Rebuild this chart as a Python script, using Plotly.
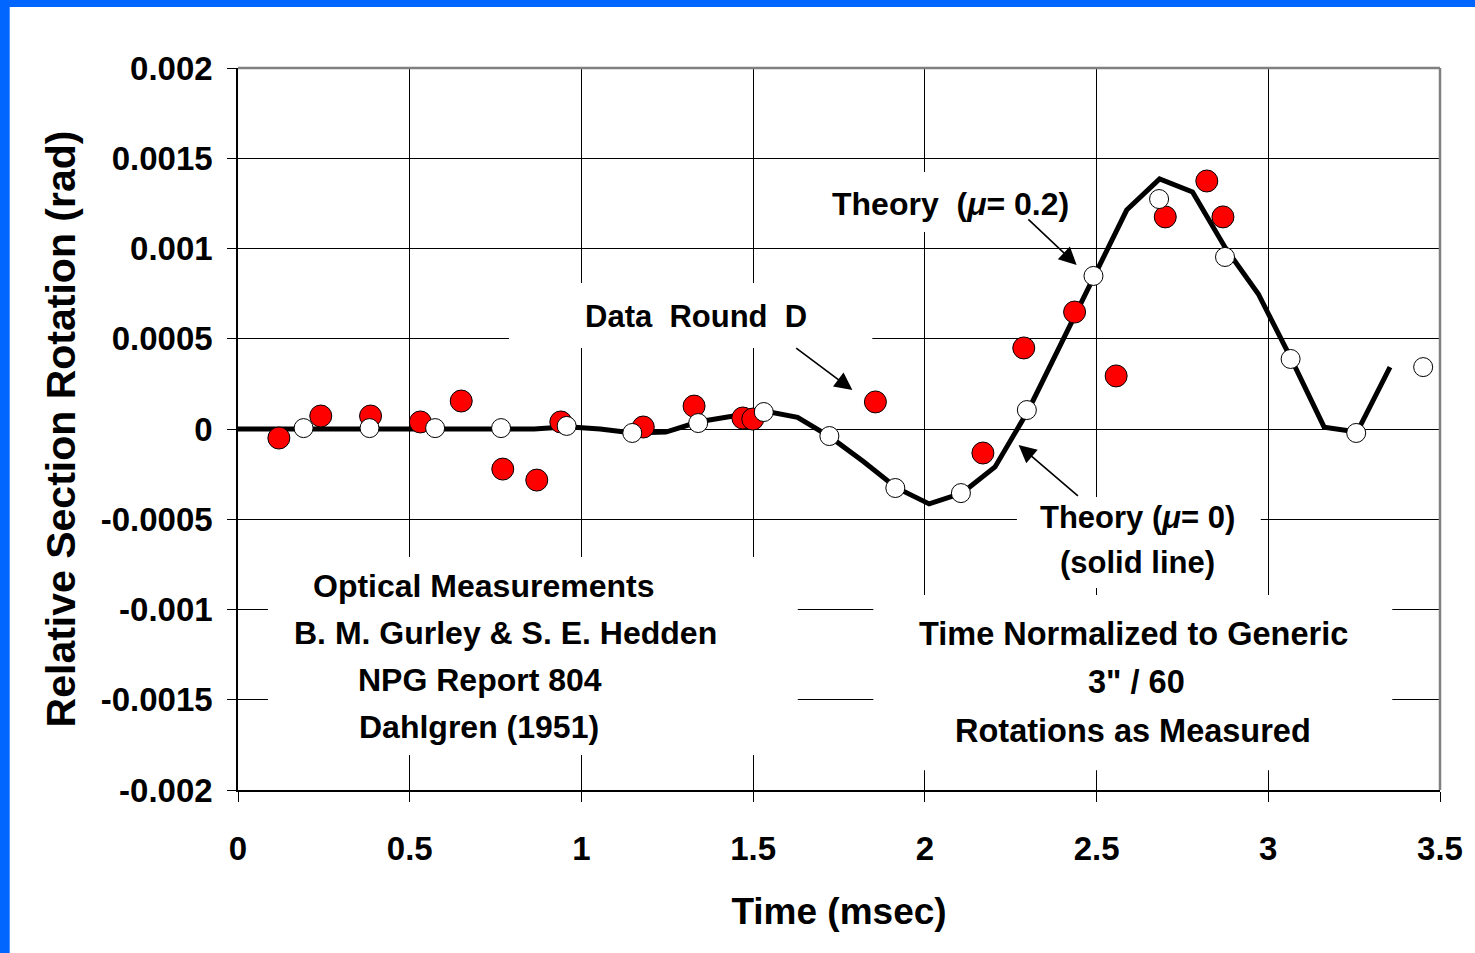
import plotly.graph_objects as go

# ---------------- data ----------------
theory_x = [0.0, 0.0958, 0.1917, 0.2875, 0.3834, 0.4792, 0.5750, 0.6709, 0.7667, 0.8626,
            0.9584, 1.0542, 1.1501, 1.2459, 1.3418, 1.4376, 1.5334, 1.6293, 1.7251, 1.8210,
            1.9168, 2.0126, 2.1085, 2.2043, 2.3002, 2.3960, 2.4918, 2.5877, 2.6835, 2.7794,
            2.8752, 2.9710, 3.0669, 3.1627, 3.2586, 3.3544]
theory_y = [0.0, 0.0, 0.0, 0.0, 0.0, 0.0, 0.0, 0.0, 0.0, 0.0,
            0.000013, 0.0, -0.000022, -0.000017, 0.00004, 0.00007, 0.0001, 0.000065, -0.000045, -0.00018,
            -0.000325, -0.000415, -0.000355, -0.00021, 0.0001, 0.00047, 0.000848, 0.001213, 0.001385, 0.001313,
            0.001003, 0.000748, 0.000388, 0.00001, -0.000017, 0.000343]

white_x = [0.191, 0.383, 0.574, 0.766, 0.957, 1.148, 1.340, 1.531, 1.722, 1.914,
           2.105, 2.297, 2.491, 2.682, 2.874, 3.065, 3.256, 3.451]
white_y = [0.000005, 0.000005, 0.000005, 0.000005, 0.000017, -0.000022, 0.000033, 0.000094, -0.000039, -0.000327,
           -0.000355, 0.000105, 0.000848, 0.001274, 0.000953, 0.000388, -0.000022, 0.000343]

red_x = [0.119, 0.241, 0.386, 0.531, 0.650, 0.771, 0.870, 0.940, 1.180, 1.328,
         1.470, 1.499, 1.856, 2.169, 2.288, 2.436, 2.557, 2.700, 2.821, 2.868]
red_y = [-0.00005, 0.000072, 0.000072, 0.000039, 0.000155, -0.000222, -0.000283, 0.000039, 0.000011, 0.000127,
         0.000061, 0.000055, 0.00015, -0.000133, 0.000449, 0.000648, 0.000294, 0.001175, 0.001374, 0.001175]

x_ticks = [0, 0.5, 1, 1.5, 2, 2.5, 3, 3.5]
x_ticklabels = ["0", "0.5", "1", "1.5", "2", "2.5", "3", "3.5"]
y_ticks = [-0.002, -0.0015, -0.001, -0.0005, 0, 0.0005, 0.001, 0.0015, 0.002]
y_ticklabels = ["-0.002", "-0.0015", "-0.001", "-0.0005", "0", "0.0005", "0.001", "0.0015", "0.002"]

FONT = "Liberation Sans, Arial, sans-serif"

fig = go.Figure()
fig.add_trace(go.Scatter(x=theory_x, y=theory_y, mode="lines",
                         line=dict(color="black", width=5), showlegend=False, hoverinfo="skip"))
fig.add_trace(go.Scatter(x=red_x, y=red_y, mode="markers",
                         marker=dict(color="#FF0000", size=22, line=dict(color="black", width=1)),
                         showlegend=False))
fig.add_trace(go.Scatter(x=white_x, y=white_y, mode="markers",
                         marker=dict(color="white", size=19, line=dict(color="black", width=1)),
                         showlegend=False))

# white label boxes that interrupt the grid (between grid and traces)
boxes = [
    (0.789, 1.847, 0.000449, 0.000809),     # Data Round D
    (1.688, 2.456, 0.001091, 0.001424),     # Theory mu=0.2
    (2.268, 2.978, -0.000881, -0.000377),   # Theory mu=0
    (1.850, 3.361, -0.00189, -0.00092),     # Time normalized
    (0.087, 1.630, -0.001806, -0.000709),   # Optical measurements
]
for x0, x1, y0, y1 in boxes:
    fig.add_shape(type="rect", xref="x", yref="y", x0=x0, x1=x1, y0=y0, y1=y1,
                  fillcolor="white", line=dict(width=0), layer="between")

# gray top/right frame
fig.add_shape(type="line", xref="paper", yref="paper", x0=0, x1=1, y0=1, y1=1,
              line=dict(color="#808080", width=2.5))
fig.add_shape(type="line", xref="paper", yref="paper", x0=1, x1=1, y0=0, y1=1,
              line=dict(color="#808080", width=2.5))

# blue border bands (top and left)
W, H = 1475, 953
L, R, T, B = 238, 26, 68, 163
pw, ph = W - L - R, H - T - B
fig.add_shape(type="rect", xref="paper", yref="paper",
              x0=-L / pw - 0.01, x1=(W - L) / pw + 0.01, y0=1 + (T - 7) / ph, y1=1 + T / ph + 0.01,
              fillcolor="#0066FF", line=dict(width=0), layer="above")
fig.add_shape(type="rect", xref="paper", yref="paper",
              x0=-L / pw - 0.01, x1=-(L - 8) / pw, y0=-B / ph - 0.01, y1=1 + T / ph + 0.01,
              fillcolor="#0066FF", line=dict(width=0), layer="above")

def txt(x, y, s, size=32):
    fig.add_annotation(x=x, y=y, xref="x", yref="y", text=s, showarrow=False,
                       font=dict(family=FONT, size=size, color="black", weight="bold"),
                       xanchor="center", yanchor="middle")

txt(1.334, 0.000626, "Data&nbsp;&nbsp;Round&nbsp;&nbsp;D", 31)
txt(2.076, 0.001247, "Theory&nbsp;&nbsp;(<i>μ</i>= 0.2)", 32)
txt(2.618, -0.000488, "Theory (<i>μ</i>= 0)", 31)
txt(2.618, -0.000737, "(solid line)", 31)
txt(2.607, -0.001136, "Time Normalized to Generic", 32.5)
txt(2.616, -0.001402, "3\" / 60", 32.5)
txt(2.607, -0.001673, "Rotations as Measured", 32.5)
txt(0.716, -0.00087, "Optical Measurements", 32)
txt(0.780, -0.00113, "B. M. Gurley &amp; S. E. Hedden", 32)
txt(0.705, -0.00139, "NPG Report 804", 32)
txt(0.702, -0.00165, "Dahlgren (1951)", 32)

def arrow(xt, yt, xh, yh):
    fig.add_annotation(x=xh, y=yh, ax=xt, ay=yt, xref="x", yref="y", axref="x", ayref="y",
                       text="", showarrow=True, arrowhead=2, arrowsize=2.2, arrowwidth=1.6,
                       arrowcolor="black")

arrow(1.621, 0.000454, 1.789, 0.000216)
arrow(2.297, 0.001169, 2.442, 0.000909)
arrow(2.450, -0.000377, 2.273, -0.000089)

fig.update_layout(
    width=W, height=H,
    margin=dict(l=L, r=R, t=T, b=B),
    paper_bgcolor="white", plot_bgcolor="white",
    font=dict(family=FONT, color="black"),
    xaxis=dict(range=[0, 3.5], tickvals=x_ticks, ticktext=x_ticklabels,
               showgrid=True, gridcolor="black", gridwidth=1.3, zeroline=False,
               showline=True, linecolor="black", linewidth=1.5,
               ticks="outside", ticklen=10, tickwidth=1.3, tickcolor="black",
               tickfont=dict(family=FONT, size=33, color="black", weight="bold"),
               ticklabelstandoff=19,
               title=dict(text="Time (msec)", standoff=32,
                          font=dict(family=FONT, size=37, color="black", weight="bold"))),
    yaxis=dict(range=[-0.002, 0.002], tickvals=y_ticks, ticktext=y_ticklabels,
               showgrid=True, gridcolor="black", gridwidth=1.3, zeroline=False,
               showline=True, linecolor="black", linewidth=1.5,
               ticks="outside", ticklen=9, tickwidth=1.3, tickcolor="black",
               tickfont=dict(family=FONT, size=33, color="black", weight="bold"),
               ticklabelstandoff=8,
               title=dict(text="Relative Section Rotation (rad)", standoff=12,
                          font=dict(family=FONT, size=41, color="black", weight="bold"))),
)

fig.write_html("out.html")
